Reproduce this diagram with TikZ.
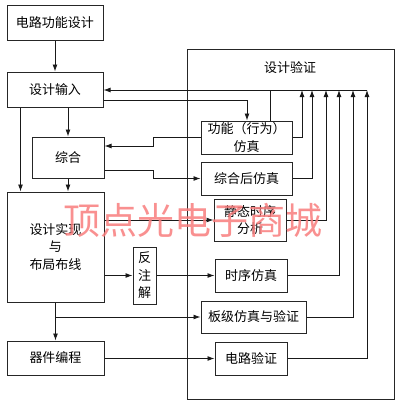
\documentclass[tikz,border=0pt]{standalone}
\usepackage{fontspec}
\newfontfamily\cjk{Noto Sans CJK SC}
\usetikzlibrary{arrows.meta}

\tikzset{
  box/.style={draw=black!85, line width=1pt, inner sep=1pt, align=center,
    font=\cjk\fontsize{13}{17.5}\selectfont},
  arr/.style={-{Latex[length=7pt,width=5pt]}},
  wire/.style={line width=0.9pt, draw=black!90}
}

\begin{document}
\begin{tikzpicture}[x=1pt,y=1pt,yscale=-1,xscale=1]
\useasboundingbox (0,0) rectangle (400,410);

%Big Box
\draw [line width=1pt, draw=black!85] (187,49) rectangle (394,399);
% Text Node
\node [font=\cjk\fontsize{13}{16}\selectfont] (titel) at (290,68) {设计验证};

%Left Boxes
\node [box, minimum width=96pt, minimum height=35pt] (spec) at (55,22.5) {电路功能设计};
\node [box, minimum width=96pt, minimum height=35pt] (shuru) at (55,89.5) {设计输入};
\node [box, minimum width=72pt, minimum height=41pt] (zonghe) at (68,157.5) {综合};
\node [box, minimum width=97pt, minimum height=110pt] (shixian) at (55.5,247) {设计实现\\与\\布局布线};
\node [box, minimum width=23pt, minimum height=57pt] (fzj) at (144.5,275.5) {反\\注\\解};
\node [box, minimum width=97pt, minimum height=34pt] (biancheng) at (55.5,358) {器件编程};

%Right Boxes
\node [box, minimum width=91pt, minimum height=33pt] (fz1) at (246.5,137.5) {功能（行为）\\仿真};
\node [box, minimum width=91pt, minimum height=33pt] (fz2) at (246.5,178.5) {综合后仿真};
\node [box, minimum width=72pt, minimum height=42pt] (jingtai) at (250,220) {静态时序\\分析};
\node [box, minimum width=72pt, minimum height=33pt] (shixu) at (251,275.5) {时序仿真};
\node [box, minimum width=105pt, minimum height=32pt] (banji) at (253.5,317) {板级仿真与验证};
\node [box, minimum width=72pt, minimum height=33pt] (dianlu) at (251,358.5) {电路验证};

%Coordinates
\coordinate (bus) at (367,90);
\coordinate (down1) at (247,100);
\coordinate (up0) at (270,90);
\coordinate (jog1) at (153,146);
\coordinate (jog2) at (153,170);
\coordinate (p1) at ([xshift=14pt]shuru.south west);

%Straight Lines
\draw [wire, arr] (spec) -- (shuru);
\draw [wire, arr] (bus) -- (bus -| shuru.east);
\draw [wire, arr] (down1 -| shuru.east) -- (down1) -- (fz1.north -| down1);
\draw [wire] (fz1.north -| up0) -- (up0);
\draw [wire, arr] (zonghe.north |- shuru.south) -- (zonghe.north);
\draw [wire, arr] (p1) -- (p1 |- shixian.north);
\draw [wire, arr] (zonghe.south) -- (zonghe.south |- shixian.north);
\draw [wire, arr] (fz1.west) -| (jog1) -- (jog1 -| zonghe.east);
\draw [wire, arr] (jog2 -| zonghe.east) -- (jog2) |- (fz2.west);
\draw [wire, arr] (jingtai.west -| shixian.east) -- (jingtai.west);
\draw [wire, arr] (fzj.west -| shixian.east) -- (fzj.west);
\draw [wire, arr] (fzj.east) -- (shixu.west);
\draw [wire, arr] (shixian.south) -- (biancheng.north);
\draw [wire, arr] (banji.west -| shixian.south) -- (banji.west);
\draw [wire, arr] (dianlu.west -| biancheng.east) -- (dianlu.west);

%Feedback Lines
\foreach \n/\x in {fz1/302, fz2/312, jingtai/326, shixu/339, banji/353, dianlu/367}
  \draw [wire, arr] (\n.east) -| (bus -| \x,0);

% Text Node
\node [text={rgb,255:red,248;green,125;blue,125}, text opacity=0.85,
  font=\cjk\fontsize{37}{39}\selectfont, inner sep=0pt] (wm) at (193,220) {顶点光电子商城};

\end{tikzpicture}
\end{document}
